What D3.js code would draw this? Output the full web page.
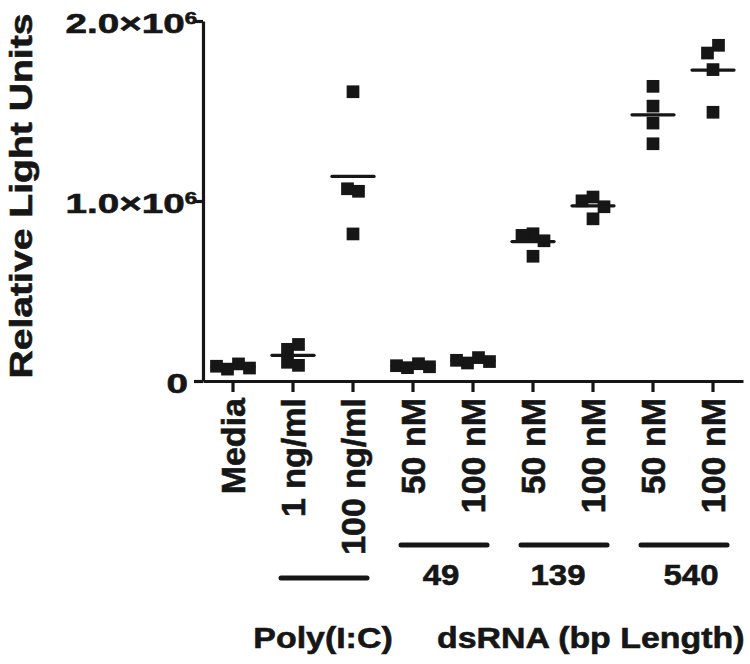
<!DOCTYPE html>
<html><head><meta charset="utf-8">
<script src="https://cdn.jsdelivr.net/npm/d3@7"></script>
<style>
html,body{margin:0;padding:0;background:#fff;}
svg text{font-family:"Liberation Sans",Arial,Helvetica,sans-serif;font-weight:bold;fill:#161616;stroke:#161616;stroke-width:0.6px;}
</style></head><body>
<svg id="chart" width="750" height="664"></svg>
<script>
// ---- data ----
const tickLabels = ["Media","1 ng/ml","100 ng/ml","50 nM","100 nM","50 nM","100 nM","50 nM","100 nM"];
const mediaValues     = [82000, 66000, 95000, 72000];
const polyIC1Values   = [176000, 203000, 104000, 87000];
const polyIC100Values = [1607000, 1068000, 1054000, 817000];
const ds49n50Values   = [85000, 74000, 96000, 79000];
const ds49n100Values  = [115000, 100000, 130000, 108000];
const ds139n50Values  = [809000, 818000, 779000, 693000];
const ds139n100Values = [1001000, 1022000, 968000, 901000];
const ds540n50Values  = [1637000, 1527000, 1433000, 1318000];
const ds540n100Values = [1822000, 1865000, 1730000, 1493000];
const yTickValues = [0, 1000000, 2000000];
const yTickMain = ["0", "1.0×10", "2.0×10"];
const yTickSup  = ["", "6", "6"];
const bracketLabels = ["", "49", "139", "540"];
const bracketFirst  = [1, 3, 5, 7];
const bracketLast   = [2, 4, 6, 8];
const yTitle = "Relative Light Units";
const polyTitle = "Poly(I:C)";
const dsTitle = "dsRNA (bp Length)";

const groups = [mediaValues, polyIC1Values, polyIC100Values, ds49n50Values, ds49n100Values,
                ds139n50Values, ds139n100Values, ds540n50Values, ds540n100Values];

// ---- layout ----
const plot = {left: 203, right: 743, top: 21, bottom: 381};
const ink = "#161616";
const marker = 12.7, spread = 11, meanHalf = 21;

const svg = d3.select("#chart");
const x = d3.scaleBand().domain(d3.range(tickLabels.length)).range([plot.left, plot.right]);
const cx = i => x(i) + x.bandwidth() / 2;
const y = d3.scaleLinear().domain([0, 2000000]).range([plot.bottom, plot.top]);

// x axis
const gx = svg.append("g").attr("transform", `translate(0,${plot.bottom})`)
  .call(d3.axisBottom(x).tickSize(11).tickSizeOuter(0).tickFormat(i => tickLabels[i]));
gx.select(".domain").attr("stroke", ink).attr("stroke-width", 3.2);
gx.selectAll(".tick line").attr("stroke", ink).attr("stroke-width", 3.2);
gx.selectAll(".tick text")
  .attr("transform", "rotate(-90)").attr("text-anchor", "end")
  .attr("x", -17).attr("y", 0).attr("dy", "0.36em")
  .attr("font-size", 34).attr("fill", ink);

// y axis
const gy = svg.append("g").attr("transform", `translate(${plot.left},0)`)
  .call(d3.axisLeft(y).tickValues(yTickValues).tickSize(9).tickSizeOuter(0).tickFormat(""));
gy.select(".domain").attr("stroke", ink).attr("stroke-width", 3.2);
gy.selectAll(".tick line").attr("stroke", ink).attr("stroke-width", 3.2);
gy.selectAll(".tick text").remove();
gy.selectAll(".tick").each(function(v, k) {
  const hasSup = yTickSup[k] !== "";
  const t = d3.select(this).append("text")
    .attr("transform", `translate(${hasSup ? -6 : -15},0) scale(1.38,1)`)
    .attr("text-anchor", "end").attr("dy", "0.4em").attr("font-size", 28);
  t.append("tspan").text(yTickMain[k]);
  if (hasSup) t.append("tspan").attr("font-size", 16).attr("dy", -9).text(yTickSup[k]);
});

// y title
svg.append("text")
  .attr("transform", `translate(32,${(plot.top + plot.bottom) / 2 - 5}) rotate(-90)`)
  .attr("text-anchor", "middle").attr("font-size", 31)
  .attr("textLength", 365).attr("lengthAdjust", "spacingAndGlyphs")
  .text(yTitle);

// points: rows of near-equal values are spread horizontally
function layout(values) {
  const pts = values.map((v, i) => ({v, i, py: y(v)})).sort((a, b) => a.py - b.py);
  const rows = []; let cur = null;
  pts.forEach(p => {
    if (!cur || p.py - cur.start >= marker) { cur = {start: p.py, pts: []}; rows.push(cur); }
    cur.pts.push(p);
  });
  rows.forEach(r => {
    r.pts.sort((a, b) => a.i - b.i);
    const n = r.pts.length;
    r.pts.forEach((p, k) => p.dx = (k - (n - 1) / 2) * spread);
  });
  return pts;
}

const gp = svg.append("g");
groups.forEach((vals, gi) => {
  const pts = layout(vals);
  gp.selectAll(null).data(pts).enter().append("rect")
    .attr("x", d => cx(gi) + d.dx - marker / 2)
    .attr("y", d => d.py - marker / 2)
    .attr("width", marker).attr("height", marker)
    .attr("fill", ink);
  const m = d3.mean(vals);
  gp.append("line")
    .attr("x1", cx(gi) - meanHalf).attr("x2", cx(gi) + meanHalf)
    .attr("y1", y(m)).attr("y2", y(m))
    .attr("stroke", ink).attr("stroke-width", 3.3).attr("stroke-linecap", "round");
});

// brackets under the axis labels
const polyBracketY = 578, dsBracketY = 545, bracketNumY = 585, titleY = 648;
const bracketNumShift = [0, -2, -5, 8];
bracketFirst.forEach((f, k) => {
  const l = bracketLast[k];
  const by = k === 0 ? polyBracketY : dsBracketY;
  svg.append("line")
    .attr("x1", cx(f) - 12).attr("x2", cx(l) + 14)
    .attr("y1", by).attr("y2", by)
    .attr("stroke", ink).attr("stroke-width", 5).attr("stroke-linecap", "round");
  if (bracketLabels[k]) {
    svg.append("text")
      .attr("transform", `translate(${(cx(f) + cx(l)) / 2 + bracketNumShift[k]},${bracketNumY}) scale(1.1,1)`)
      .attr("text-anchor", "middle").attr("font-size", 30)
      .text(bracketLabels[k]);
  }
});

svg.append("text")
  .attr("transform", `translate(${(cx(1) + cx(2)) / 2},${titleY}) scale(1.13,1)`)
  .attr("text-anchor", "middle").attr("font-size", 30).text(polyTitle);
svg.append("text")
  .attr("transform", `translate(${cx(3) + 24},${titleY}) scale(1.13,1)`)
  .attr("text-anchor", "start").attr("font-size", 30).text(dsTitle);
</script>
</body></html>
